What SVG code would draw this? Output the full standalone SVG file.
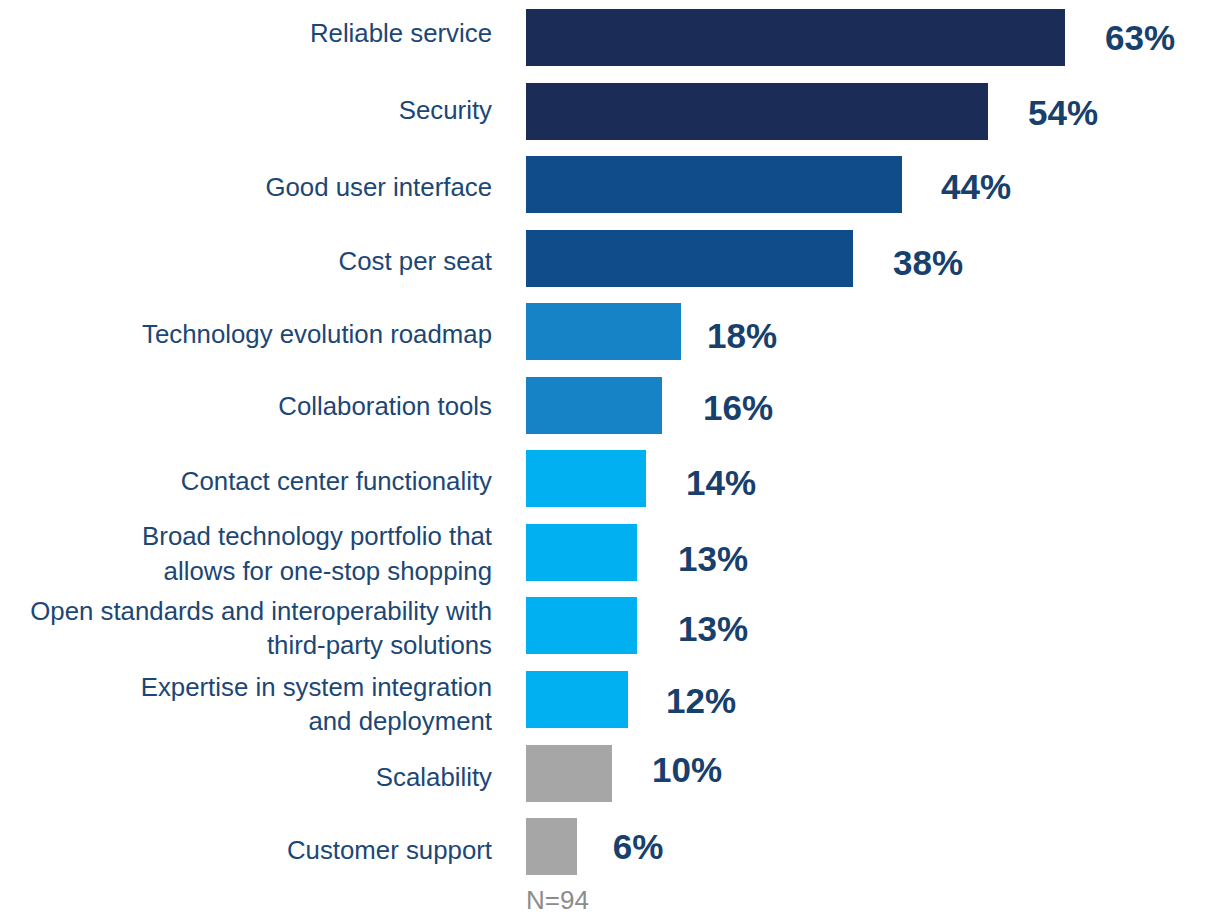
<svg xmlns="http://www.w3.org/2000/svg" width="1208" height="915" viewBox="0 0 1208 915">
<style>
.lbl{font-family:"Liberation Sans",Arial,sans-serif;font-size:25.8px;fill:#1C4775;text-anchor:end}
.pct{font-family:"Liberation Sans",Arial,sans-serif;font-size:35px;font-weight:bold;fill:#17406D;text-anchor:middle}
.c1{fill:#1B2D56}.c2{fill:#104C89}.c3{fill:#1783C7}.c4{fill:#00B0F0}.c5{fill:#A6A6A6}
.note{font-family:"Liberation Sans",Arial,sans-serif;font-size:26px;fill:#8C8C8C}
</style>
<rect width="1208" height="915" fill="#fff"/>
<g id="row1"><rect class="c1" x="526" y="9" width="539" height="57"/><text class="lbl" x="492" y="42">Reliable service</text><text class="pct" x="1140" y="50">63%</text></g>
<g id="row2"><rect class="c1" x="526" y="83" width="462" height="57"/><text class="lbl" x="492" y="119">Security</text><text class="pct" x="1063" y="125">54%</text></g>
<g id="row3"><rect class="c2" x="526" y="156" width="376" height="57"/><text class="lbl" x="492" y="196">Good user interface</text><text class="pct" x="976" y="199">44%</text></g>
<g id="row4"><rect class="c2" x="526" y="230" width="327" height="57"/><text class="lbl" x="492" y="270">Cost per seat</text><text class="pct" x="928" y="275">38%</text></g>
<g id="row5"><rect class="c3" x="526" y="303" width="155" height="57"/><text class="lbl" x="492" y="343">Technology evolution roadmap</text><text class="pct" x="742" y="348">18%</text></g>
<g id="row6"><rect class="c3" x="526" y="377" width="136" height="57"/><text class="lbl" x="492" y="415">Collaboration tools</text><text class="pct" x="738" y="420">16%</text></g>
<g id="row7"><rect class="c4" x="526" y="450" width="120" height="57"/><text class="lbl" x="492" y="490">Contact center functionality</text><text class="pct" x="721" y="495">14%</text></g>
<g id="row8"><rect class="c4" x="526" y="524" width="111" height="57"/><text class="lbl" x="492" y="545">Broad technology portfolio that</text><text class="lbl" x="492" y="580">allows for one-stop shopping</text><text class="pct" x="713" y="571">13%</text></g>
<g id="row9"><rect class="c4" x="526" y="597" width="111" height="57"/><text class="lbl" x="492" y="620">Open standards and interoperability with</text><text class="lbl" x="492" y="654">third-party solutions</text><text class="pct" x="713" y="641">13%</text></g>
<g id="row10"><rect class="c4" x="526" y="671" width="102" height="57"/><text class="lbl" x="492" y="696">Expertise in system integration</text><text class="lbl" x="492" y="730">and deployment</text><text class="pct" x="701" y="713">12%</text></g>
<g id="row11"><rect class="c5" x="526" y="745" width="86" height="57"/><text class="lbl" x="492" y="786">Scalability</text><text class="pct" x="687" y="782">10%</text></g>
<g id="row12"><rect class="c5" x="526" y="818" width="51" height="57"/><text class="lbl" x="492" y="859">Customer support</text><text class="pct" x="638" y="859">6%</text></g>
<g id="connectors"></g>
<text class="note" x="526" y="909">N=94</text>
</svg>
